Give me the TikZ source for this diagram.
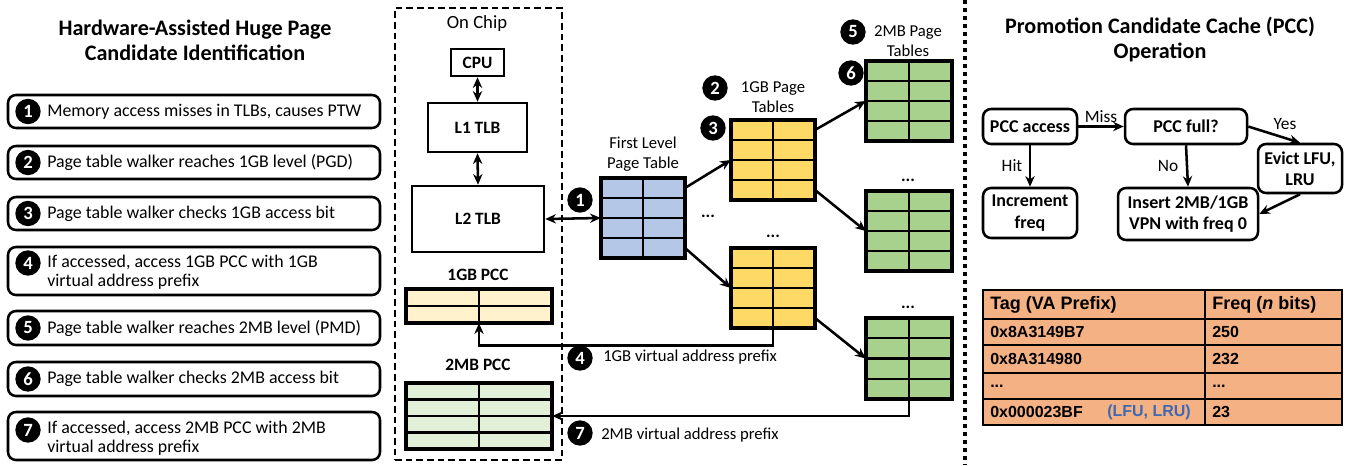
\documentclass[tikz,border=0pt]{standalone}
\usepackage{fontspec}
\setmainfont{Carlito}
\newfontfamily\arialf{Liberation Sans}
\usetikzlibrary{arrows.meta,calc}
\definecolor{tblblue}{HTML}{B4C7E7}
\definecolor{tblyellow}{HTML}{FFD966}
\definecolor{tblgreen}{HTML}{A9D18E}
\definecolor{pccyellow}{HTML}{FFF2CC}
\definecolor{pccgreen}{HTML}{E2F0D9}
\definecolor{tblorange}{HTML}{F4B183}
\definecolor{lfublue}{HTML}{4068B0}
\newcommand\gridlines[3]{%
  \foreach \i in {#3}{\draw[line width=1.8pt] ($(#1.north west)!{\i/#2}!(#1.south west)$) -- ($(#1.north east)!{\i/#2}!(#1.south east)$);}
  \draw[line width=1.8pt] (#1.north) -- (#1.south);
  \draw[line width=1.9pt] (#1.north west) rectangle (#1.south east);
}
\tikzset{
  sz/.style 2 args={minimum width=#1*0.75pt, minimum height=#2*0.75pt},
  lbox/.style={draw, line width=1.9pt, rounded corners=6pt, inner sep=0pt},
  num/.style={circle, fill=black, text=white, inner sep=0pt, minimum size=19pt, font=\bfseries\fontsize{14}{14}\selectfont},
  ltext/.style={inner sep=0pt, font=\fontsize{13.4}{14.3}\selectfont, align=left},
  mtext/.style={inner sep=0pt, font=\fontsize{12.5}{14.5}\selectfont, align=center},
  btext/.style={inner sep=0pt, font=\bfseries\fontsize{13}{15}\selectfont, align=center},
  ttl/.style={inner sep=0pt, font=\bfseries\fontsize{16.6}{18.75}\selectfont, align=center},
  sqbox/.style={draw, line width=1.9pt, inner sep=0pt, font=\bfseries\fontsize{13}{15}\selectfont},
  ptab/.style={draw, line width=1.9pt, inner sep=0pt},
  fc/.style={draw, line width=1.9pt, rounded corners=6pt, inner sep=0pt, align=center, font=\bfseries\fontsize{13.5}{16}\selectfont},
  arr/.style={line width=1.9pt, -{Stealth[length=8pt,width=7pt]}},
  darr/.style={line width=1.9pt, {Stealth[length=8pt,width=7pt]}-{Stealth[length=8pt,width=7pt]}},
  dots/.style={inner sep=0pt, font=\bfseries\fontsize{13}{14}\selectfont},
  tcell/.style={inner sep=0pt, anchor=west, font=\arialf\bfseries\fontsize{12}{14}\selectfont},
  thead/.style={inner sep=0pt, anchor=west, font=\arialf\bfseries\fontsize{13.5}{15}\selectfont},
}
\begin{document}
\begin{tikzpicture}[x=0.75pt,y=-0.75pt]
\useasboundingbox (0,0) rectangle (1348,465);
\fill[white] (0,0) rectangle (1348,465);

% ---------- left panel ----------
\node[ttl] (lt) at (195,40) {Hardware-Assisted Huge Page\\Candidate Identification};

\node[lbox, sz={372}{33}] (s1) at (194,111.5) {};
\node[num] (n1) at (28,111.5) {1};
\node[ltext, anchor=west] (t1) at (47,111.5) {Memory access misses in TLBs, causes PTW};

\node[lbox, sz={372}{33}] (s2) at (194,162.5) {};
\node[num] (n2) at (28,162.5) {2};
\node[ltext, anchor=west] (t2) at (47,162.5) {Page table walker reaches 1GB level (PGD)};

\node[lbox, sz={372}{33}] (s3) at (194,213.5) {};
\node[num] (n3) at (28,213.5) {3};
\node[ltext, anchor=west] (t3) at (47,213.5) {Page table walker checks 1GB access bit};

\node[lbox, sz={372}{48}] (s4) at (194,271) {};
\node[num] (n4) at (28,263) {4};
\node[ltext, anchor=west] (t4) at (47,272.5) {If accessed, access 1GB PCC with 1GB\\virtual address prefix};

\node[lbox, sz={372}{34}] (s5) at (194,328) {};
\node[num] (n5) at (28,328) {5};
\node[ltext, anchor=west] (t5) at (47,328) {Page table walker reaches 2MB level (PMD)};

\node[lbox, sz={372}{34}] (s6) at (194,379) {};
\node[num] (n6) at (28,379) {6};
\node[ltext, anchor=west] (t6) at (47,379) {Page table walker checks 2MB access bit};

\node[lbox, sz={372}{48}] (s7) at (194,436) {};
\node[num] (n7) at (28,430) {7};
\node[ltext, anchor=west] (t7) at (47,438.5) {If accessed, access 2MB PCC with 2MB\\virtual address prefix};

% ---------- on chip ----------
\node[draw, line width=1.9pt, dash pattern=on 5pt off 3pt, sz={167}{452}, inner sep=0pt] (chip) at (478.5,234) {};
\node[mtext, font=\fontsize{14}{15}\selectfont] (chiplbl) at (477,24) {On Chip};
\node[sqbox, sz={53}{27}] (cpu) at (477.5,62.5) {CPU};
\node[sqbox, sz={99}{49}] (l1) at (477.5,127.5) {L1 TLB};
\node[sqbox, sz={132}{66}] (l2) at (478,219) {L2 TLB};
\draw[darr] (cpu.south) -- (l1.north);
\draw[darr] (l1.south) -- (l2.north);

\node[btext] (pcc1lbl) at (478,275) {1GB PCC};
\node[ptab, fill=pccyellow, sz={144}{32}] (pcc1) at (479,306) {};
\gridlines{pcc1}{2}{1}
\node[btext] (pcc2lbl) at (478,365) {2MB PCC};
\node[ptab, fill=pccgreen, sz={144}{64}] (pcc2) at (479,416) {};
\gridlines{pcc2}{4}{1,2,3}

% ---------- page tables ----------
\node[ptab, fill=tblblue, sz={82}{78}] (pt1) at (643,218) {};
\gridlines{pt1}{4}{1,2,3}
\node[mtext] (pt1lbl) at (643,154) {First Level\\Page Table};

\node[ptab, fill=tblyellow, sz={82}{78}] (yu) at (773,160) {};
\gridlines{yu}{4}{1,2,3}
\node[mtext] (yulbl) at (773,97) {1GB Page\\Tables};
\node[ptab, fill=tblyellow, sz={82}{78}] (yl) at (773,288) {};
\gridlines{yl}{4}{1,2,3}

\node[ptab, fill=tblgreen, sz={84}{78}] (gu) at (909,101) {};
\gridlines{gu}{4}{1,2,3}
\node[mtext] (gulbl) at (908,41) {2MB Page\\Tables};
\node[ptab, fill=tblgreen, sz={84}{78}] (gm) at (909,231) {};
\gridlines{gm}{4}{1,2,3}
\node[ptab, fill=tblgreen, sz={84}{79}] (gl) at (909,358.5) {};
\gridlines{gl}{4}{1,2,3}

\node[dots] (d1) at (708,216) {...};
\node[dots] (d2) at (773,236) {...};
\node[dots] (d3) at (908,180) {...};
\node[dots] (d4) at (908,307) {...};

\node[num] (c1) at (580,200) {1};
\node[num] (c2) at (715,88) {2};
\node[num] (c3) at (713,128) {3};
\node[num] (c5) at (853,32) {5};
\node[num] (c6) at (851,73) {6};
\node[num] (c4) at (580,358) {4};
\node[num] (c7) at (580,433) {7};
\node[mtext, anchor=west] (a4lbl) at (603,357) {1GB virtual address prefix};
\node[mtext, anchor=west] (a7lbl) at (601,435) {2MB virtual address prefix};

\draw[darr] (l2.east) -- (pt1.west);
\draw[arr] ($(pt1.north east)!0.125!(pt1.south east)$) -- (yu.west);
\draw[arr] ($(pt1.north east)!0.875!(pt1.south east)$) -- (yl.west);
\draw[arr] ($(yu.north east)!0.125!(yu.south east)$) -- (gu.west);
\draw[arr] ($(yu.north east)!0.875!(yu.south east)$) -- (gm.west);
\draw[arr] ($(yl.north east)!0.875!(yl.south east)$) -- (gl.west);
\draw[arr] (yl.south) -- ++(0,17) -| (pcc1.south);
\draw[arr] (gl.south) |- (pcc2.east);

% ---------- separator ----------
\coordinate (septop) at (965,0);
\coordinate (sepbot) at (965,465);
\draw[line width=3pt, dash pattern=on 3pt off 3pt] (septop) -- (sepbot);

% ---------- right panel ----------
\node[ttl] (rt) at (1160,40) {Promotion Candidate Cache (PCC)\\Operation};
\node[fc, sz={94}{35}] (acc) at (1030,126.5) {PCC access};
\node[fc, sz={122}{35}] (full) at (1186,126.5) {PCC full?};
\node[fc, sz={84}{49}] (evict) at (1300,168.5) {Evict LFU,\\LRU};
\node[fc, sz={94}{50}] (incr) at (1030,213) {Increment\\freq};
\node[fc, sz={140}{52}] (ins) at (1188,214) {Insert 2MB/1GB\\VPN with freq 0};
\draw[arr] (acc.east) -- node[above=2pt, mtext, font=\fontsize{13}{14}\selectfont] (miss) {Miss} (full.west);
\draw[arr] (acc.south) -- (incr.north);
\node[mtext, font=\fontsize{13}{14}\selectfont] (hit) at (1012,166) {Hit};
\draw[arr] (full.south) -- (ins.north);
\node[mtext, font=\fontsize{13}{14}\selectfont] (no) at (1168,166) {No};
\draw[arr] (full.east) -- (evict.north);
\node[mtext, font=\fontsize{13}{14}\selectfont] (yes) at (1285,124) {Yes};
\draw[arr] (evict.south) -- (ins.east);

% ---------- PCC table ----------
\node[draw, line width=1.9pt, fill=tblorange, sz={359}{135}, inner sep=0pt] (tab) at (1162.5,357.5) {};
\coordinate (tl1) at (983,319); \coordinate (tr1) at (1342,319);
\coordinate (tl2) at (983,345); \coordinate (tr2) at (1342,345);
\coordinate (tl3) at (983,373); \coordinate (tr3) at (1342,373);
\coordinate (tl4) at (983,399); \coordinate (tr4) at (1342,399);
\coordinate (vt) at (1205,290); \coordinate (vb) at (1205,425);
\draw[line width=1.8pt] (tl1) -- (tr1) (tl2) -- (tr2) (tl3) -- (tr3) (tl4) -- (tr4) (vt) -- (vb);
\node[thead] (h1) at (990,304.5) {Tag (VA Prefix)};
\node[thead] (h2) at (1212,304.5) {Freq (\textit{n} bits)};
\node[tcell] (r1a) at (990,332) {0x8A3149B7};
\node[tcell] (r1b) at (1212,332) {250};
\node[tcell] (r2a) at (990,359) {0x8A314980};
\node[tcell] (r2b) at (1212,359) {232};
\node[tcell] (r3a) at (990,386) {...};
\node[tcell] (r3b) at (1212,386) {...};
\node[tcell] (r4a) at (990,412) {0x000023BF};
\node[tcell, text=lfublue] (r4c) at (1107,412) {(LFU, LRU)};
\node[tcell] (r4b) at (1212,412) {23};
\end{tikzpicture}
\end{document}
